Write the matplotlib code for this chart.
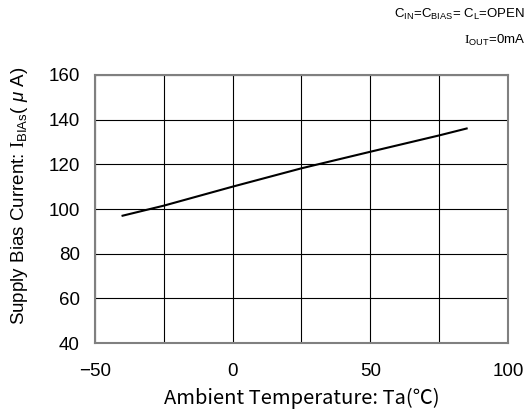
import numpy as np
import matplotlib
matplotlib.use("Agg")
import matplotlib.pyplot as plt

# values
temps = [-40, -25, 0, 25, 50, 75, 85]
bias_current = [97.0, 101.5, 110.0, 118.2, 125.6, 132.9, 136.0]

x_ticks = [-50, 0, 50, 100]
x_grid = [-50, -25, 0, 25, 50, 75, 100]
y_ticks = [40, 60, 80, 100, 120, 140, 160]

plt.rcParams["font.family"] = ["Liberation Sans", "DejaVu Sans"]
plt.rcParams["mathtext.fontset"] = "custom"
plt.rcParams["mathtext.rm"] = "Liberation Sans"
plt.rcParams["mathtext.it"] = "Liberation Sans:italic"
plt.rcParams["mathtext.sf"] = "Liberation Serif"  # serif "I" as in the original

fig = plt.figure(figsize=(5.28, 4.18), dpi=100)
ax = fig.add_axes([0.18, 0.179, 0.782, 0.642])

ax.plot(temps, bias_current, color="black", linewidth=1.5)

ax.set_xlim(-50, 100)
ax.set_ylim(40, 160)
ax.set_xticks(x_grid, minor=True)
ax.set_xticks(x_ticks)
ax.set_yticks(y_ticks)
ax.grid(True, which="both", color="black", linewidth=0.8)
ax.tick_params(which="both", length=0, labelsize=13.5, pad=11)
ax.tick_params(axis="x", pad=14)
for sp in ax.spines.values():
    sp.set_color("#808080")
    sp.set_linewidth(1.5)

jp = ["Noto Sans CJK JP", "DejaVu Sans"]
ax.set_xlabel("Ambient Temperature: Ta(℃)", fontsize=14.5, family=jp, labelpad=6)
ax.set_ylabel(r"Supply Bias Current: $\mathsf{I}_{\mathrm{BIAs}}$( $\mu$ A)",
              fontsize=13.5)
ax.yaxis.set_label_coords(-0.158, 0.55)

fig.text(0.995, 0.965, r"C$_{\mathrm{IN}}$=C$_{\mathrm{BIAS}}$= C$_{\mathrm{L}}$=OPEN",
         ha="right", va="center", fontsize=9.5)
fig.text(0.995, 0.903, r"$\mathsf{I}_{\mathrm{OUT}}$=0mA", ha="right", va="center", fontsize=9.5)

fig.savefig("out.png", dpi=100)
